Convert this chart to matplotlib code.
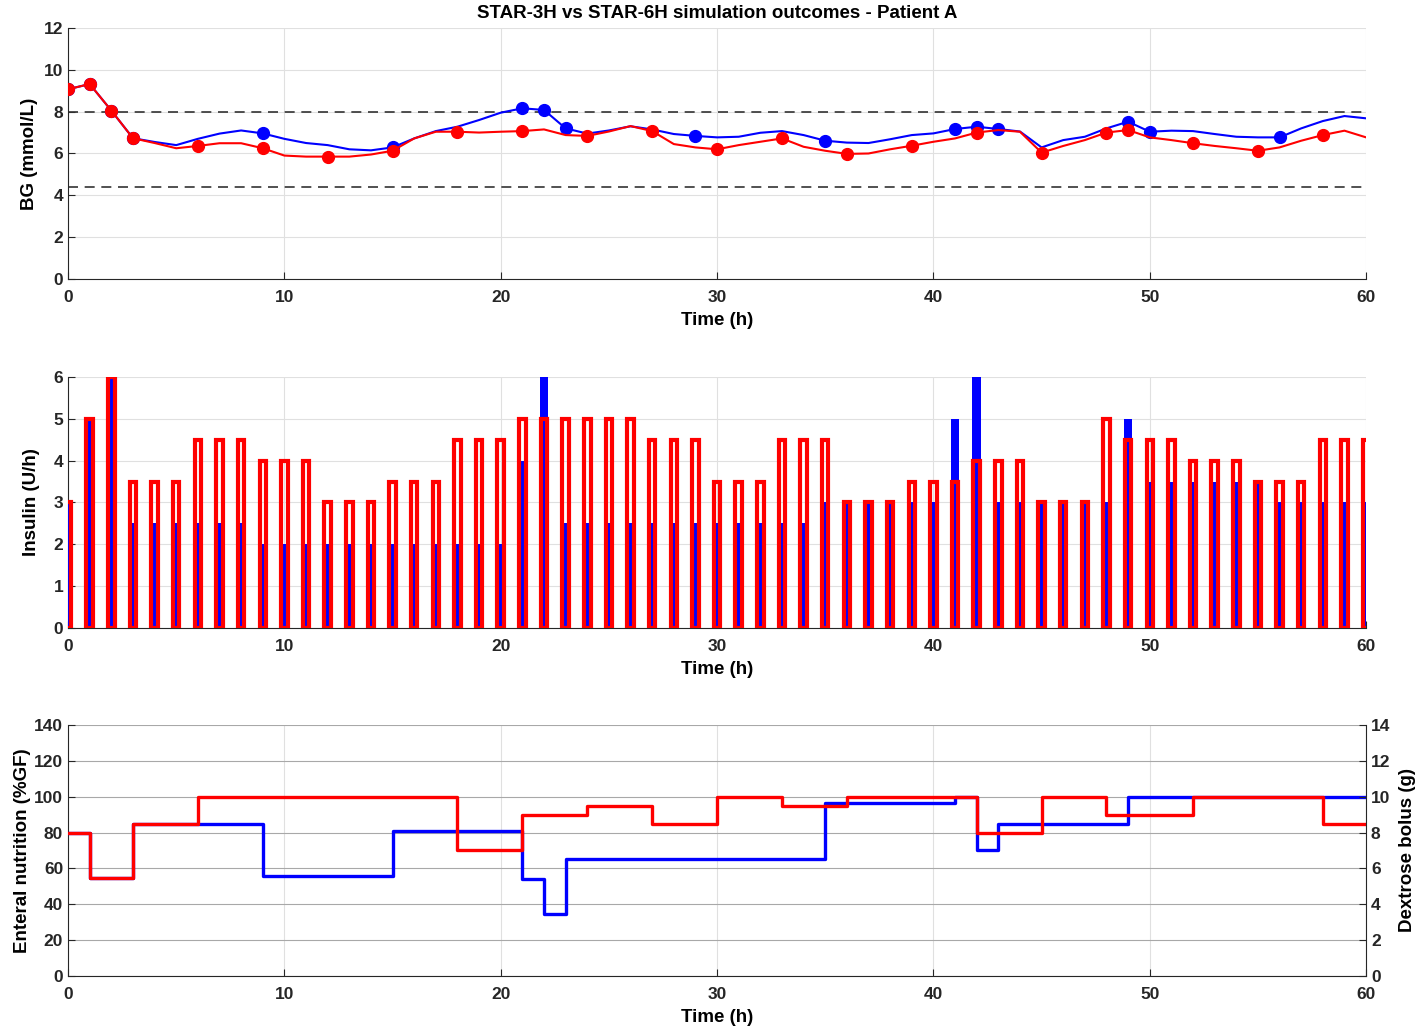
import numpy as np
import matplotlib
matplotlib.use("Agg")
import matplotlib.pyplot as plt

plt.rcParams['font.family'] = ['Liberation Sans', 'DejaVu Sans']
plt.rcParams['font.weight'] = 'bold'
plt.rcParams['axes.labelweight'] = 'bold'
plt.rcParams['axes.titleweight'] = 'bold'

# ---- data ----
hours = np.arange(0, 61)

# blood glucose (mmol/L), STAR-3H (red) and STAR-6H (blue)
bg_3h = [9.07, 9.32, 8.05, 6.73, 6.5, 6.25, 6.36, 6.49, 6.49, 6.25,
         5.9, 5.85, 5.85, 5.85, 5.95, 6.13, 6.72, 7.04, 7.04, 7.0,
         7.04, 7.07, 7.15, 6.88, 6.84, 7.05, 7.31, 7.07, 6.45, 6.29,
         6.2, 6.4, 6.56, 6.72, 6.32, 6.13, 5.98, 6.0, 6.2, 6.37,
         6.56, 6.72, 7.0, 7.12, 7.04, 6.04, 6.36, 6.64, 7.0, 7.12,
         6.77, 6.64, 6.49, 6.36, 6.25, 6.13, 6.29, 6.61, 6.88, 7.09, 6.77]
bg_6h = [9.07, 9.32, 8.05, 6.73, 6.55, 6.4, 6.7, 6.95, 7.1, 6.96,
         6.7, 6.5, 6.4, 6.2, 6.15, 6.29, 6.72, 7.07, 7.28, 7.6,
         7.95, 8.16, 8.08, 7.2, 6.95, 7.1, 7.3, 7.15, 6.93, 6.84,
         6.77, 6.8, 6.99, 7.07, 6.88, 6.61, 6.52, 6.5, 6.68, 6.88,
         6.96, 7.17, 7.28, 7.17, 7.05, 6.29, 6.64, 6.8, 7.2, 7.52,
         7.04, 7.09, 7.07, 6.93, 6.8, 6.77, 6.77, 7.2, 7.55, 7.79, 7.68]
meas_3h = [0, 1, 2, 3, 6, 9, 12, 15, 18, 21, 24, 27, 30, 33, 36, 39, 42, 45, 48, 49, 52, 55, 58]
meas_6h = [0, 1, 2, 3, 9, 15, 21, 22, 23, 29, 35, 41, 42, 43, 49, 50, 56]
bg_band = [4.4, 8.0]

# insulin (U/h)
ins_3h = [3, 5, 6, 3.5, 3.5, 3.5, 4.5, 4.5, 4.5, 4, 4, 4, 3, 3, 3, 3.5, 3.5, 3.5,
          4.5, 4.5, 4.5, 5, 5, 5, 5, 5, 5, 4.5, 4.5, 4.5, 3.5, 3.5, 3.5, 4.5, 4.5, 4.5,
          3, 3, 3, 3.5, 3.5, 3.5, 4, 4, 4, 3, 3, 3, 5, 4.5, 4.5, 4.5, 4, 4, 4,
          3.5, 3.5, 3.5, 4.5, 4.5, 4.5]
ins_6h = [3, 5, 6, 2.5, 2.5, 2.5, 2.5, 2.5, 2.5, 2, 2, 2, 2, 2, 2, 2, 2, 2,
          2, 2, 2, 4, 6, 2.5, 2.5, 2.5, 2.5, 2.5, 2.5, 2.5, 2.5, 2.5, 2.5, 2.5, 2.5, 3,
          3, 3, 3, 3, 3, 5, 6, 3, 3, 3, 3, 3, 3, 5, 3.5, 3.5, 3.5, 3.5, 3.5,
          3.5, 3, 3, 3, 3, 3]

# enteral nutrition (%GF), step changes
en_3h_t = [0, 1, 3, 6, 18, 21, 24, 27, 30, 33, 36, 42, 45, 48, 52, 58, 60]
en_3h = [80, 54.5, 85, 100, 70, 90, 95, 85, 100, 95, 100, 80, 100, 90, 100, 85, 85]
en_6h_t = [0, 1, 3, 6, 9, 15, 21, 22, 23, 35, 41, 42, 43, 49, 60]
en_6h = [80, 54.5, 85, 85, 55.5, 81, 54, 34.6, 65, 96.5, 100, 70, 85, 100, 100]

RED = '#ff0000'
BLUE = '#0000ff'

fig = plt.figure(figsize=(14.18, 10.28), dpi=100)
W = 0.9154
H = 0.2442
ax1 = fig.add_axes([0.048, 0.7286, W, H])
ax2 = fig.add_axes([0.048, 0.3891, W, H])
ax3 = fig.add_axes([0.048, 0.0506, W, H])


def style(ax):
    ax.set_xlim(0, 60)
    ax.set_xticks(range(0, 61, 10))
    ax.grid(True, color='#e0e0e0', linewidth=0.8)
    ax.set_axisbelow(True)
    ax.spines['top'].set_visible(False)
    ax.spines['right'].set_visible(False)
    ax.spines['left'].set_color('#262626')
    ax.spines['bottom'].set_color('#262626')
    ax.tick_params(direction='in', length=5, labelsize=12.5, colors='#262626')
    ax.tick_params(axis='x', pad=8)
    ax.set_xlabel('Time (h)', fontsize=13.5, labelpad=5)


# ---- BG panel ----
style(ax1)
ax1.plot(hours, bg_6h, color=BLUE, lw=1.5, marker='o', ms=8.5,
         markevery=meas_6h, zorder=3)
ax1.plot(hours, bg_3h, color=RED, lw=1.5, marker='o', ms=8.5,
         markevery=meas_3h, zorder=4)
for lvl in bg_band:
    ax1.axhline(lvl, color='#333333', ls=(0, (6, 4)), lw=1.2, zorder=2)
ax1.set_ylim(0, 12)
ax1.set_yticks(range(0, 13, 2))
ax1.set_ylabel('BG (mmol/L)', fontsize=13.5, labelpad=4)
ax1.set_title('STAR-3H vs STAR-6H simulation outcomes - Patient A',
              fontsize=13.5, pad=7)

# ---- insulin panel ----
style(ax2)
ax2.bar(hours, ins_6h, width=0.4, color=BLUE, zorder=3)
ax2.bar(hours, ins_3h, width=0.3, facecolor='none', edgecolor=RED,
        linewidth=3.0, zorder=4)
ax2.set_ylim(0, 6)
ax2.set_yticks(range(0, 7))
ax2.set_ylabel('Insulin (U/h)', fontsize=13.5, labelpad=10)

# ---- nutrition panel ----
style(ax3)
ax3.step(en_6h_t, en_6h, where='post', color=BLUE, lw=2.4, zorder=3)
ax3.step(en_3h_t, en_3h, where='post', color=RED, lw=2.4, zorder=4)
ax3.set_ylim(0, 140)
ax3.set_yticks(range(0, 141, 20))
ax3.grid(True, axis='y', color='#a8a8a8', linewidth=0.8)
ax3.set_ylabel('Enteral nutrition (%GF)', fontsize=13.5, labelpad=2)
ax3r = ax3.twinx()
ax3r.set_ylim(0, 14)
ax3r.set_yticks(range(0, 15, 2))
for s in ['top', 'left', 'bottom']:
    ax3r.spines[s].set_visible(False)
ax3r.spines['right'].set_color('#262626')
ax3r.tick_params(direction='in', length=5, labelsize=12.5, colors='#262626')
ax3r.set_ylabel('Dextrose bolus (g)', fontsize=13.5, labelpad=6)

fig.savefig('out.png', dpi=100)
